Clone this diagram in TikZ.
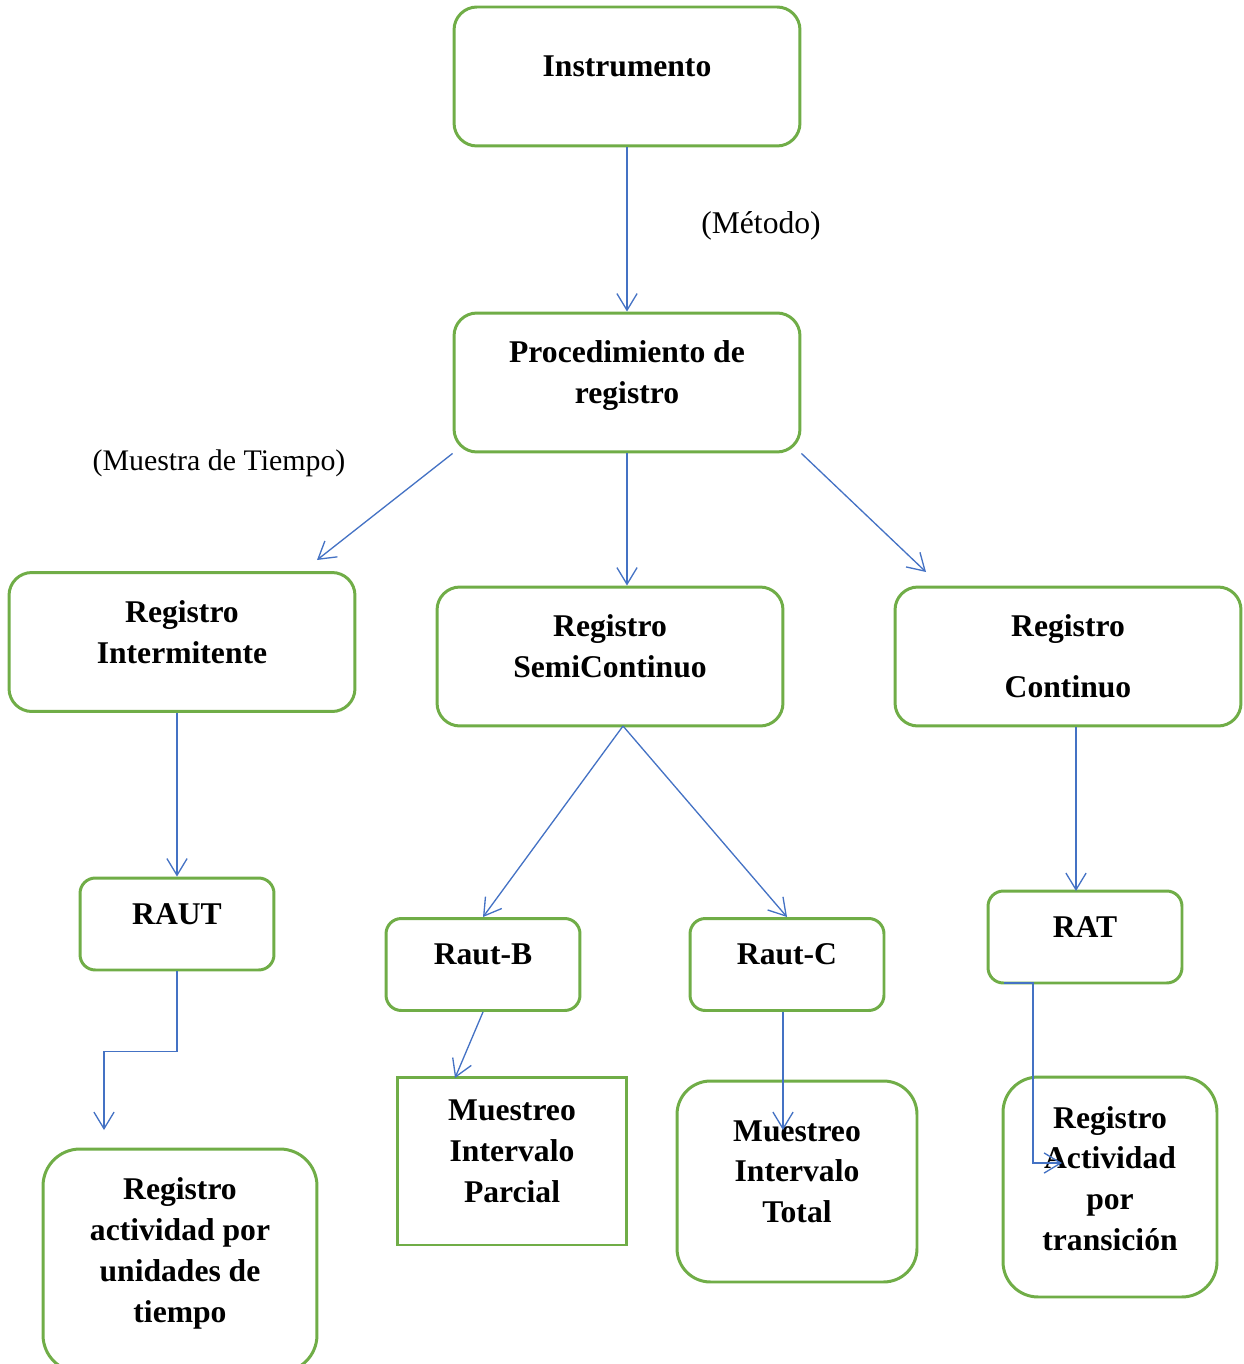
\documentclass[tikz,border=0pt]{standalone}
\usepackage{fontspec}
\setmainfont{Liberation Serif}
\usepackage{tikz}
\usetikzlibrary{arrows.meta}
\definecolor{boxgreen}{RGB}{112,173,71}
\definecolor{arrowblue}{RGB}{68,114,196}
\newcommand{\lift}[1][11.5pt]{\rule[-#1]{0pt}{0pt}}

\begin{document}
\begin{tikzpicture}[
        x=0.02cm, y=-0.02cm,
        every node/.append style={font=\fontsize{18}{23.2}\selectfont}
    ]
    \tikzstyle{box}=[draw=boxgreen,line width=1.7pt,rounded corners=13pt,fill=white,align=center,inner sep=0pt,font=\fontsize{18}{23.2}\selectfont\bfseries,minimum width=6.92cm,minimum height=2.78cm];
    \tikzstyle{small}=[box,rounded corners=8.7pt,minimum width=3.88cm,minimum height=1.84cm];
    \tikzstyle{arr}=[draw=arrowblue,line width=0.75pt,-{Straight Barb[length=9.5pt,width=11.5pt]}];
    \useasboundingbox (0,0) rectangle (1243,1364);
    % top
    \node[box] (inst) at (627,76.5) {Instrumento\lift};
    \node[box] (proc) at (627,382.5) {Procedimiento de\\registro\lift[11.6pt]};
    \node (metodo) at (761,226) {(Método)};
    \node[font=\fontsize{17}{22}\selectfont] (muestra) at (219,463) {(Muestra de Tiempo)};
    % registros
    \node[box] (inter) at (182,642) {Registro\\Intermitente\lift};
    \node[box] (semi) at (610,656.5) {Registro\\SemiContinuo\lift};
    \node[box] (cont) at (1068,656.5) {Registro\\[11.3pt]Continuo};
    % small ones
    \node[small] (raut) at (177,924) {RAUT\lift};
    \node[small] (rautb) at (483,964.5) {Raut-B\lift};
    \node[small] (rautc) at (787,964.5) {Raut-C\lift};
    \node[small] (rat) at (1085,937) {RAT\lift};
    % bottom
    \node[box,rounded corners=21pt,minimum width=5.48cm,minimum height=4.46cm] (unid) at (180,1260.5) {Registro\\actividad por\\unidades de\\tiempo\lift[12pt]};
    \node[box,sharp corners,minimum width=4.6cm,minimum height=3.36cm] (parc) at (512,1161) {Muestreo\\Intervalo\\Parcial\lift};
    \node[box,rounded corners=19pt,minimum width=4.8cm,minimum height=4.02cm] (total) at (797,1181.5) {Muestreo\\Intervalo\\Total\lift};
    \node[box,rounded corners=20pt,minimum width=4.28cm,minimum height=4.4cm] (trans) at (1110,1187) {Registro\\Actividad\\por\\transición\lift[10pt]};
    % free ends
    \coordinate (intertip) at (317,560);
    \coordinate (conttip) at (926,572);
    \coordinate (semifork) at (623,726);
    \coordinate (ratin) at (1076,891);
    \coordinate (unidtip) at (104,1130);
    \coordinate (parctip) at (455,1078);
    \coordinate (totaltip) at (783,1130);
    \coordinate (ratout) at (1004,983);
    \coordinate (transbend) at (1033,1163);
    \coordinate (transtip) at (1062,1163);
    % arrows
    \draw[arr] (inst) -- (proc);
    \draw[arr] (proc.south west) -- (intertip);
    \draw[arr] (proc.south) -- (proc.south |- semi.north);
    \draw[arr] (proc.south east) -- (conttip);
    \draw[arr] (raut.north |- inter.south) -- (raut.north);
    \draw[arr] (raut.south) -- ++(0,80) -| (unidtip);
    \draw[arr] (semifork) -- (rautb.north);
    \draw[arr] (semifork) -- (rautc.north);
    \draw[arr] (cont.south -| ratin) -- (ratin);
    \draw[arr] (rautb.south) -- (parctip);
    \draw[arr] (rautc.south -| totaltip) -- (totaltip);
    \draw[arr] (ratout) -| (transbend) -- (transtip);
\end{tikzpicture}
\end{document}
